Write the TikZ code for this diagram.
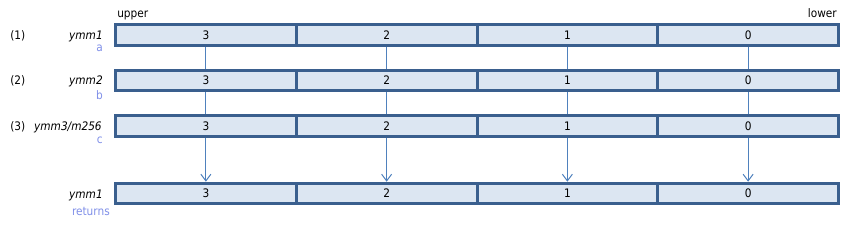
\documentclass[tikz,border=0pt]{standalone}
\usepackage{fontspec}
\setmainfont{DejaVu Sans Condensed}
\usetikzlibrary{arrows.meta}
\definecolor{cellfill}{HTML}{DCE6F2}
\definecolor{celldraw}{HTML}{3A5F8E}
\definecolor{conn}{HTML}{4F81BD}
\definecolor{lbl}{HTML}{7F8FE8}
\begin{document}
\begin{tikzpicture}[x=0.75pt,y=-0.75pt,
  fnt/.style={font=\fontsize{8.8}{10}\selectfont},
  cell/.style={fnt,draw=celldraw,fill=cellfill,line width=2.25pt,minimum width=135.56pt,minimum height=15.4pt,inner sep=0pt,text height=6.4pt,text depth=0pt},
  txt/.style={fnt,inner sep=0pt},
  reg/.style={txt,anchor=base east,font=\fontsize{8.8}{10}\selectfont\itshape},
  sub/.style={txt,anchor=base east,text=lbl},
  link/.style={draw=conn,line width=0.75pt},
  arr/.style={link,-{Straight Barb[length=5pt,width=7.5pt]}}]
\useasboundingbox (0,0) rectangle (847,228);
\foreach \r/\y in {1/35,2/80.5,3/126,4/193.5}{
  \foreach \c/\v in {0/3,1/2,2/1,3/0}{
    \node[cell] (r\r c\v) at (205.875+\c*180.75,\y) {\v};
  }
}
\node[txt,anchor=base west] (upper) at (117,18) {upper};
\node[txt,anchor=base east] (lower) at (837,18) {lower};
\node[txt,anchor=base west] (n1) at (10,40) {(1)};
\node[txt,anchor=base west] (n2) at (10,85) {(2)};
\node[txt,anchor=base west] (n3) at (10,130.5) {(3)};
\node[reg] (ymm1) at (103,40) {ymm1};
\node[reg] (ymm2) at (103,85) {ymm2};
\node[reg] (ymm3) at (102,130.5) {ymm3/m256};
\node[reg] (ymm1r) at (103,198) {ymm1};
\node[sub] (a) at (103,52) {a};
\node[sub] (b) at (103,99) {b};
\node[sub] (c) at (103,143) {c};
\node[sub] (ret) at (110,215) {returns};
\foreach \v in {3,2,1,0}{
  \draw[link] (r1c\v.south) -- (r2c\v.north);
  \draw[link] (r2c\v.south) -- (r3c\v.north);
  \draw[arr] (r3c\v.south) -- (r4c\v.north);
}
\end{tikzpicture}
\end{document}
